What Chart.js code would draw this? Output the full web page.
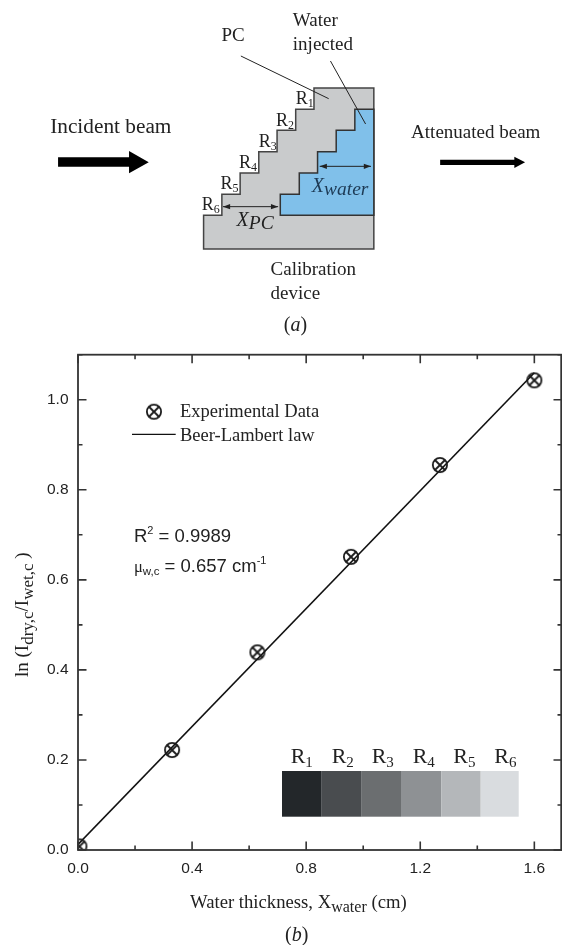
<!DOCTYPE html>
<html>
<head>
<meta charset="utf-8">
<style>html,body{margin:0;padding:0;background:#fff}canvas{display:block}</style>
<script src="https://cdn.jsdelivr.net/npm/chart.js@4"></script>
</head>
<body>
<canvas id="c" width="562" height="945"></canvas>
<script>
const thicknessCm = [0.005, 0.33, 0.629, 0.957, 1.269, 1.6];
const lnRatio = [0.008, 0.222, 0.439, 0.651, 0.855, 1.043];
const fitThickness = [0, 1.6];
const fitLnRatio = [0.0125, 1.06];
const xTickValues = [0, 0.2, 0.4, 0.6, 0.8, 1.0, 1.2, 1.4, 1.6];
const yTickValues = [0, 0.1, 0.2, 0.3, 0.4, 0.5, 0.6, 0.7, 0.8, 0.9, 1.0, 1.1];
const xLabelled = [0, 0.4, 0.8, 1.2, 1.6];
const yLabelled = [0, 0.2, 0.4, 0.6, 0.8, 1.0];
const stepNames = ['1', '2', '3', '4', '5', '6'];
const stepGreys = ['#23272a', '#494c4f', '#6b6e70', '#8e9194', '#b4b7ba', '#d9dcdf'];

const SERIF = '"Liberation Serif"', SANS = '"Liberation Sans"';
const INK = '#222', AXIS = '#333';

function near(list, v) { return list.some(t => Math.abs(t - v) < 1e-6); }

function marker() {
  const s = 20, c = document.createElement('canvas');
  c.width = c.height = s;
  const g = c.getContext('2d'), m = s / 2, r = 7.1, d = r * 0.74;
  g.strokeStyle = '#1a1a1a'; g.lineWidth = 1.8;
  g.beginPath(); g.arc(m, m, r, 0, Math.PI * 2); g.stroke();
  g.beginPath();
  g.moveTo(m - d, m - d); g.lineTo(m + d, m + d);
  g.moveTo(m + d, m - d); g.lineTo(m - d, m + d);
  g.stroke();
  return c;
}
const markerImg = marker();

/* Mixed-font text run: each piece is [text, font, baselineShift]. */
function run(ctx, x, y, pieces) {
  ctx.textAlign = 'left'; ctx.textBaseline = 'alphabetic';
  for (const [t, f, dy] of pieces) {
    ctx.font = f;
    ctx.fillText(t, x, y + (dy || 0));
    x += ctx.measureText(t).width;
  }
  return x;
}

/* Schematic outline points (2.79 x 3 per pixel). */
const gx = v => v / 2.79, gy = v => v / 3;
function poly(ctx, pts) {
  ctx.beginPath();
  pts.forEach((p, i) => i ? ctx.lineTo(gx(p[0]), gy(p[1])) : ctx.moveTo(gx(p[0]), gy(p[1])));
  ctx.closePath();
}
function seg(ctx, a, b, c, d) {
  ctx.beginPath(); ctx.moveTo(gx(a), gy(b)); ctx.lineTo(gx(c), gy(d)); ctx.stroke();
}
function dblArrow(ctx, x1, x2, y) {
  seg(ctx, x1, y, x2, y);
  ctx.fillStyle = '#222';
  poly(ctx, [[x1, y], [x1 + 20, y - 8], [x1 + 20, y + 8]]); ctx.fill();
  poly(ctx, [[x2, y], [x2 - 20, y - 8], [x2 - 20, y + 8]]); ctx.fill();
}

function drawSchematic(ctx) {
  ctx.save();
  ctx.lineJoin = 'miter';
  poly(ctx, [[568,747],[1043,747],[1043,264],[876,264],[876,328],[825,328],[825,391],[773,391],[773,455],[722,455],[722,519],[670,519],[670,583],[619,583],[619,646],[568,646]]);
  ctx.fillStyle = '#c9cbcc'; ctx.fill();
  ctx.strokeStyle = '#444'; ctx.lineWidth = 1.5; ctx.stroke();
  poly(ctx, [[782,646],[1043,646],[1043,328],[990,328],[990,391],[938,391],[938,455],[886,455],[886,519],[835,519],[835,583],[782,583]]);
  ctx.fillStyle = '#80c0ea'; ctx.fill();
  ctx.strokeStyle = '#333'; ctx.stroke();

  ctx.strokeStyle = '#222'; ctx.lineWidth = 1;
  seg(ctx, 672, 168, 917, 296);
  seg(ctx, 922, 183, 1020, 372);
  dblArrow(ctx, 622, 776, 620);
  dblArrow(ctx, 892, 1035, 499);

  ctx.fillStyle = '#000';
  poly(ctx, [[162,472],[360,472],[360,453],[415,487],[360,520],[360,500],[162,500]]); ctx.fill();
  poly(ctx, [[1228,479],[1435,479],[1435,470],[1465,487],[1435,504],[1435,495],[1228,495]]); ctx.fill();

  ctx.fillStyle = INK;
  const main = '19px ' + SERIF;
  const put = (t, a, b, font) => run(ctx, gx(a), gy(b), [[t, font || main]]);
  put('PC', 618, 122);
  put('Water', 817, 78);
  put('injected', 817, 150);
  put('Incident beam', 140, 400, '21.3px ' + SERIF);
  put('Attenuated beam', 1147, 415, '19px ' + SERIF);
  put('Calibration', 755, 826);
  put('device', 755, 898);
  const rAt = [[825,313],[770,378],[722,441],[667,505],[615,568],[563,631]];
  rAt.forEach((p, i) => run(ctx, gx(p[0]), gy(p[1]), [['R', '18px ' + SERIF], [stepNames[i], '12px ' + SERIF, 3]]));
  ctx.fillStyle = '#1d3a55';
  run(ctx, gx(870), gy(577), [['X', 'italic 20px ' + SERIF], ['water', 'italic 19.5px ' + SERIF, 3]]);
  ctx.fillStyle = INK;
  run(ctx, gx(660), gy(678), [['X', 'italic 20px ' + SERIF], ['PC', 'italic 19.5px ' + SERIF, 3]]);
  run(ctx, gx(792), gy(992), [['(', '20px ' + SERIF], ['a', 'italic 20px ' + SERIF], [')', '20px ' + SERIF]]);
  ctx.restore();
}

const decorate = {
  id: 'decorate',
  beforeDraw(chart) { drawSchematic(chart.ctx); },
  afterDatasetsDraw(chart) {
    const ctx = chart.ctx, a = chart.chartArea, xs = chart.scales.x, ys = chart.scales.y;
    ctx.save();
    ctx.strokeStyle = AXIS;
    ctx.lineWidth = 1.6;
    xTickValues.forEach(v => {
      const p = xs.getPixelForValue(v), l = near(xLabelled, v) ? 8.5 : 4.5;
      ctx.beginPath();
      ctx.moveTo(p, a.bottom); ctx.lineTo(p, a.bottom - l);
      ctx.moveTo(p, a.top); ctx.lineTo(p, a.top + l);
      ctx.stroke();
    });
    yTickValues.forEach(v => {
      const p = ys.getPixelForValue(v), l = near(yLabelled, v) ? 8.5 : 4.5;
      ctx.beginPath();
      ctx.moveTo(a.left, p); ctx.lineTo(a.left + l, p);
      ctx.moveTo(a.right, p); ctx.lineTo(a.right - l, p);
      ctx.stroke();
    });
    ctx.lineWidth = 1.8;
    ctx.strokeRect(a.left, a.top, a.right - 0.8 - a.left, a.bottom - a.top);

    /* legend */
    ctx.drawImage(markerImg, 144, 401.7);
    ctx.strokeStyle = '#111'; ctx.lineWidth = 1.3;
    ctx.beginPath(); ctx.moveTo(132, 434.3); ctx.lineTo(175.7, 434.3); ctx.stroke();
    ctx.fillStyle = INK;
    run(ctx, 180, 417, [['Experimental Data', '18.5px ' + SERIF]]);
    run(ctx, 180, 440.7, [['Beer-Lambert law', '18.5px ' + SERIF]]);

    /* annotation */
    let x = run(ctx, 134, 542, [['R', '18.5px ' + SANS]]);
    x = run(ctx, x, 542, [['2', '11px ' + SANS, -8]]);
    run(ctx, x, 542, [[' = 0.9989', '18.5px ' + SANS]]);
    x = run(ctx, 134, 571.7, [['\u03bc', '16.5px ' + SERIF], ['w,c', '11.5px ' + SANS, 3]]);
    x = run(ctx, x, 571.7, [[' = 0.657 cm', '18.5px ' + SANS]]);
    run(ctx, x, 571.7, [['-1', '11px ' + SANS, -8]]);

    /* reservoir greyscale strip */
    const edges = [282, 321.7, 361.7, 401, 441.3, 480.7, 518.7];
    const names = [290.7, 331.7, 371.7, 412.7, 453.3, 494.3];
    stepGreys.forEach((g, i) => {
      ctx.fillStyle = g;
      ctx.fillRect(edges[i], 771, edges[i + 1] - edges[i], 45.7);
    });
    ctx.fillStyle = INK;
    names.forEach((n, i) => run(ctx, n, 763, [['R', '22px ' + SERIF], [stepNames[i], '15px ' + SERIF, 4]]));

    /* axis titles */
    run(ctx, 190, 908, [['Water thickness, X', '18.7px ' + SERIF], ['water', '16px ' + SERIF, 4], [' (cm)', '18.7px ' + SERIF]]);
    run(ctx, 285, 941, [['(', '20px ' + SERIF], ['b', 'italic 20px ' + SERIF], [')', '20px ' + SERIF]]);
    ctx.save();
    ctx.translate(28, 677);
    ctx.rotate(-Math.PI / 2);
    run(ctx, 0, 0, [['ln (I', '19px ' + SERIF], ['dry,c', '17px ' + SERIF, 5], ['/I', '19px ' + SERIF], ['wet,c', '17px ' + SERIF, 5], [' )', '19px ' + SERIF]]);
    ctx.restore();
    ctx.restore();
  }
};

new Chart(document.getElementById('c'), {
  type: 'scatter',
  data: {
    datasets: [
      {
        label: 'Beer-Lambert law',
        data: fitThickness.map((x, i) => ({ x, y: fitLnRatio[i] })),
        showLine: true, borderColor: '#111', borderWidth: 1.6, pointRadius: 0, tension: 0, order: 2
      },
      {
        label: 'Experimental Data',
        data: thicknessCm.map((x, i) => ({ x, y: lnRatio[i] })),
        showLine: false, pointStyle: markerImg, pointRadius: 7, order: 1
      }
    ]
  },
  options: {
    responsive: false,
    animation: false,
    devicePixelRatio: 1,
    layout: { autoPadding: false, padding: { top: 354.7, left: 0, right: 0, bottom: 0 } },
    plugins: { legend: { display: false }, tooltip: { enabled: false } },
    scales: {
      x: {
        type: 'linear', min: 0, max: 1.697,
        grid: { display: false, drawTicks: false }, border: { display: false },
        afterBuildTicks(s) { s.ticks = xLabelled.map(value => ({ value })); },
        afterFit(s) { s.height = 95; },
        ticks: {
          color: INK, font: { family: 'Liberation Sans', size: 15.5 }, padding: 9,
          maxRotation: 0, autoSkip: false,
          callback: v => v.toFixed(1)
        }
      },
      y: {
        type: 'linear', min: 0, max: 1.1,
        grid: { display: false, drawTicks: false }, border: { display: false },
        afterBuildTicks(s) { s.ticks = yLabelled.map(value => ({ value })); },
        afterFit(s) { s.width = 78; },
        ticks: {
          color: INK, font: { family: 'Liberation Sans', size: 15.5 }, padding: 9.5,
          autoSkip: false,
          callback: v => v.toFixed(1)
        }
      }
    }
  },
  plugins: [decorate]
});
</script>
</body>
</html>
